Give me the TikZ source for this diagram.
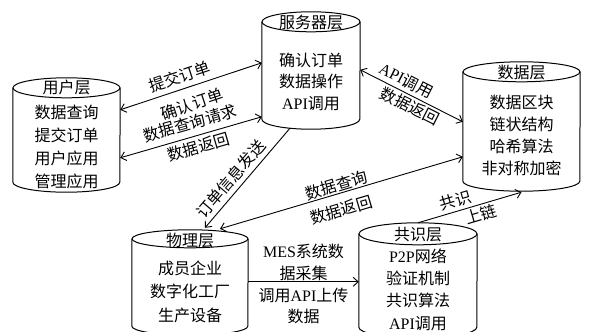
\documentclass[tikz,border=0pt]{standalone}
\usepackage{fontspec}
\setmainfont{Liberation Serif}
\newfontfamily\cjkfont{Noto Sans CJK SC}
\newfontfamily\ltnfont{Liberation Serif}
\newcommand\ltn[1]{{\ltnfont #1}}
\usetikzlibrary{arrows.meta,calc}

% cylinder: name, centre x, top-ellipse y, bottom-ellipse y, half width, ellipse y radius
\newcommand\drumcyl[6]{%
  \node[inner sep=0pt, minimum width={2*#5 pt}, minimum height={(#4-#3)*1pt}] (#1) at (#2,{(#3+#4)/2}) {};
  \draw[cyl] (#1.north west) -- (#1.south west)
    arc[start angle=180, end angle=360, x radius=#5pt, y radius=#6pt] -- (#1.north east);
  \draw[cyl] (#1.north) ellipse[x radius=#5pt, y radius=#6pt];
}

\tikzset{
  cyl/.style={line width=1pt},
  link/.style={line width=0.9pt},
  txt/.style={font=\cjkfont\fontsize{16}{#1}\selectfont, align=center, inner sep=0pt},
  txt/.default=22.5,
  lbl/.style={font=\cjkfont\fontsize{16}{20}\selectfont, inner sep=0pt, text height=12pt, text depth=2pt, sloped},
}

\begin{document}
\begin{tikzpicture}[x=1pt, y=-1pt, >={Straight Barb[length=5pt,width=9pt]}]
\useasboundingbox (0,0) rectangle (590,332);
\fill[white] (0,0) rectangle (590,332);

% layers
\drumcyl{user}{66.5}{88}{182}{53.5}{10}
\drumcyl{server}{311}{22}{119}{49}{10}
\drumcyl{data}{521.5}{72}{181}{58.5}{10}
\drumcyl{phys}{190}{239}{326}{58}{9}
\drumcyl{cons}{418}{234}{327}{59}{11}

% layer titles
\node[txt] (user-t)   at (66.5,87)  {用户层};
\node[txt] (server-t) at (311,22)   {服务器层};
\node[txt] (data-t)   at (521.5,72) {数据层};
\node[txt] (phys-t)   at (190,240)  {物理层};
\node[txt] (cons-t)   at (418,235)  {共识层};

% layer contents
\node[txt=23]   (user-b)   at (66.5,146.5) {数据查询\\提交订单\\用户应用\\管理应用};
\node[txt=21.5] (server-b) at (311,81.5)   {确认订单\\数据操作\\\ltn{API}调用};
\node[txt=22]   (data-b)   at (521.5,135)  {数据区块\\链状结构\\哈希算法\\非对称加密};
\node[txt=23.5] (phys-b)   at (190,291.5)  {成员企业\\数字化工厂\\生产设备};
\node[txt=22.3] (cons-b)   at (418,289.5)  {\ltn{P2P}网络\\验证机制\\共识算法\\\ltn{API}调用};

% user <-> server
\draw[link,<->] ($(user.north east)+(0,22)$)
  -- node[lbl,above=4.5pt,pos=.45] (l1a) {提交订单}
     node[lbl,below=11pt,pos=.47] (l1b) {确认订单}
  ($(server.north west)+(0,41)$);
\draw[link,<->] ($(user.north east)+(0,70)$)
  -- node[lbl,above=5.3pt,pos=.52] (l2a) {数据查询请求}
     node[lbl,below=5pt,pos=.53] (l2b) {数据返回}
  ($(server.north west)+(0,95)$);

% server -> physical
\draw[link,->] ($(server.south)+(-21,9)$)
  -- node[lbl,above=3.5pt,pos=.59] (l3) {订单信息发送}
  ($(phys.north)+(15,-11)$);

% server <-> data
\draw[link,<->] ($(server.north east)+(0,48)$)
  -- node[lbl,above=3pt,pos=.40] (l4a) {\ltn{API}调用}
     node[lbl,below=3.5pt,pos=.53] (l4b) {数据返回}
  ($(data.north west)+(0,50)$);

% data <-> physical
\draw[link,<->] ($(data.north west)+(0,85)$)
  -- node[lbl,above=0pt,pos=.51] (l5a) {数据查询}
     node[lbl,below=10pt,pos=.52] (l5b) {数据返回}
  ($(phys.north)+(30,-10)$);

% consensus -> data
\draw[link,->] ($(cons.north)+(0,-11)$)
  -- node[lbl,above=2.2pt,pos=.39] (l6a) {共识}
     node[lbl,below=3.3pt,pos=.58] (l6b) {上链}
  ($(data.south)+(0,11)$);

% physical -> consensus
\draw[link,->] ($(phys.north east)+(0,43)$)
  -- node[txt=22,above=1pt] (l7a) {\ltn{MES}系统数\\据采集}
     node[txt=21,below=6pt] (l7b) {调用\ltn{API}上传\\数据}
  ($(cons.north west)+(0,48)$);
\end{tikzpicture}
\end{document}
